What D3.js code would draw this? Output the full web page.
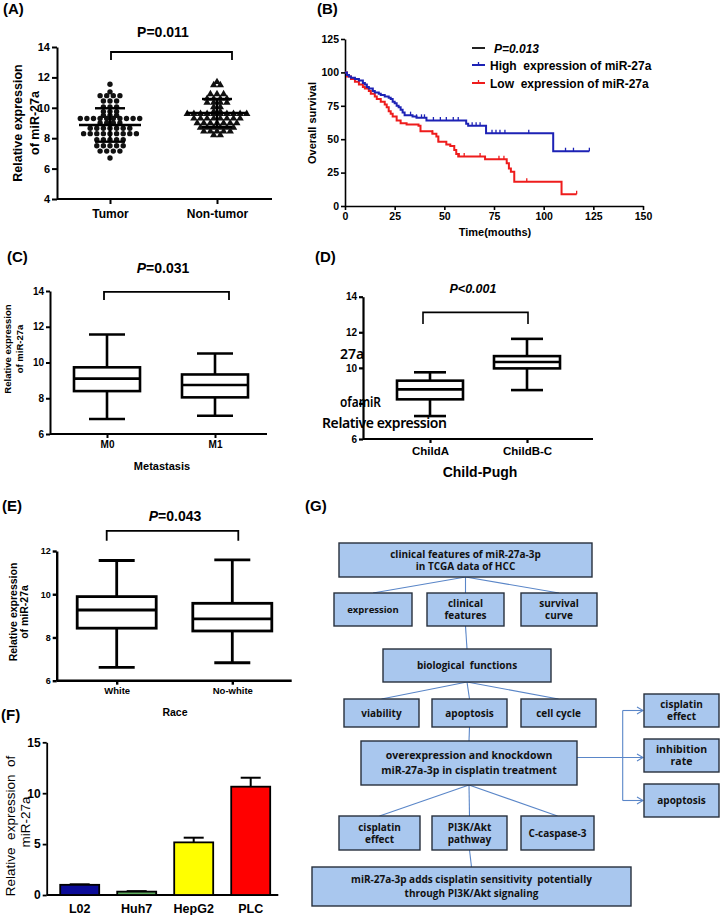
<!DOCTYPE html>
<html>
<head>
<meta charset="utf-8">
<script src="https://cdn.jsdelivr.net/npm/d3@7"></script>
<style>
  body { margin: 0; background: #fff; }
  svg { display: block; }
</style>
</head>
<body>
<svg id="fig" width="720" height="915"></svg>
<script>
// ---- data ----

// (A) scatter dot plot
const scatterGroups = ['Tumor', 'Non-tumor']
const tumorValues = [
  11.55, 11.05, 10.8, 10.8, 10.8, 10.8, 10.45, 10.45, 10.45, 10.05, 10.05, 10.05,
  9.75, 9.75, 9.75, 9.5, 9.5, 9.5,
  9.3, 9.3, 9.3, 9.3, 9.3, 9.3, 9.3, 9.3, 9.3, 9.3,
  9.0, 9.0, 9.0, 9.0,
  8.65, 8.65, 8.65, 8.65, 8.65, 8.65, 8.65,
  8.3, 8.3, 8.3, 8.3, 8.3, 8.3, 8.3, 8.3, 8.3,
  7.9, 7.9, 7.9, 7.9, 7.9,
  7.5, 7.5, 7.5, 7.5, 7.5,
  7.15, 7.15, 7.15, 7.15, 6.7
]
const nonTumorValues = [
  11.7, 11.5, 11.5, 10.9, 10.9, 10.9, 10.6, 10.6, 10.6, 10.6,
  10.35, 10.35, 10.35, 10.35, 10.05, 10.05, 9.75, 9.75,
  9.6, 9.6, 9.6, 9.6, 9.6, 9.6, 9.6, 9.6, 9.6, 9.6,
  9.3, 9.3, 9.3, 9.3, 9.3, 9.3, 9.3, 9.3,
  9.0, 9.0, 9.0, 9.0, 9.0, 9.0, 9.0,
  8.7, 8.7, 8.7, 8.7, 8.7, 8.7,
  8.45, 8.45, 8.45, 8.45, 8.45, 8.2, 8.2
]
const scatterMean = [8.87, 9.66]
const scatterSd = [1.1, 0.92]

// (B) Kaplan-Meier, [months, % survival]
const kmHigh = [
  [0, 100], [1, 98], [2, 97], [3, 96], [5, 95], [7, 94], [9, 92], [10, 91], [11, 89], [12, 88],
  [14, 86], [15, 85], [17, 84], [18, 83], [20, 82], [22, 81], [23, 80], [24, 78], [25, 77],
  [26, 75], [27, 74], [28, 72], [29, 70], [30, 68], [34, 67], [36, 66], [41, 64], [61, 61.5],
  [62, 60], [71, 54.4], [104.8, 41], [123, 41]
]
const kmLow = [
  [0, 100], [1, 97], [3, 95], [5, 93], [7, 91], [9, 89], [10, 88], [12, 86], [13, 84], [15, 82],
  [16, 80], [18, 78], [20, 76], [21, 74], [22, 71], [23, 69], [24, 67], [26, 64], [28, 62],
  [31, 61], [37, 60], [38, 56], [44, 54], [46, 52], [47, 48], [51, 46], [53, 45], [55, 42],
  [56, 39], [57, 37], [70.5, 35], [81.4, 32], [82.5, 28], [83.5, 25.7], [85.2, 18.2],
  [109, 8.8], [116.6, 8.8]
]
const kmHighCensor = [33, 36, 38.5, 40, 44.5, 48, 51, 54.5, 57, 64, 66, 68, 74, 76, 78, 80.5, 92.5, 111, 115, 123]
const kmLowCensor = [44, 47, 57.5, 60, 68, 77.5, 80, 91.5, 116.6]
const kmPValue = 'P=0.013'
const kmSeries = ['High  expression of miR-27a', 'Low  expression of miR-27a']

// (C)(D)(E) box plots: min, q1, median, q3, max
const metastasisGroups = ['M0', 'M1']
const metastasisBoxes = [[6.84, 8.4, 9.1, 9.73, 11.57], [7.02, 8.05, 8.74, 9.33, 10.5]]
const childGroups = ['ChildA', 'ChildB-C']
const childBoxes = [[7.29, 8.23, 8.79, 9.28, 9.75], [8.75, 9.97, 10.33, 10.66, 11.63]]
const raceGroups = ['White', 'No-white']
const raceBoxes = [[6.62, 8.43, 9.27, 9.89, 11.56], [6.83, 8.3, 8.86, 9.58, 11.59]]

// (F) cell lines
const cellLines = ['L02', 'Huh7', 'HepG2', 'PLC']
const cellMeans = [1.0, 0.33, 5.17, 10.64]
const cellErrors = [0.05, 0.05, 0.46, 0.88]

// (G) flowchart labels
const flowLabels = {
  top: ['clinical features of miR-27a-3p', 'in TCGA data of HCC'],
  expr: ['expression'],
  clin: ['clinical', 'features'],
  surv: ['survival', 'curve'],
  bio: ['biological  functions'],
  via: ['viability'],
  apo: ['apoptosis'],
  cyc: ['cell cycle'],
  over: ['overexpression and knockdown', 'miR-27a-3p in cisplatin treatment'],
  rCis: ['cisplatin', 'effect'],
  rInh: ['inhibition', 'rate'],
  rApo: ['apoptosis'],
  cis: ['cisplatin', 'effect'],
  pi3k: ['PI3K/Akt', 'pathway'],
  casp: ['C-caspase-3'],
  end: ['miR-27a-3p adds cisplatin sensitivity  potentially', 'through PI3K/Akt signaling']
}

// ---- drawing ----
const FONT = '"Liberation Sans", Arial, Helvetica, sans-serif'
const svg = d3.select('#fig').attr('font-family', FONT)

const txt = (g, x, y, s, size, opts = {}) => g.append('text')
  .attr('x', x).attr('y', y).text(s)
  .attr('font-size', size)
  .attr('font-weight', opts.weight || 'bold')
  .attr('font-style', opts.italic ? 'italic' : null)
  .attr('text-anchor', opts.anchor || 'start')
  .attr('fill', '#000')

const vtxt = (g, cx, cy, s, size, weight = 'bold') => g.append('text')
  .attr('transform', `translate(${cx},${cy}) rotate(-90)`)
  .attr('dy', '0.35em')
  .attr('text-anchor', 'middle')
  .attr('font-size', size)
  .attr('font-weight', weight)
  .attr('xml:space', 'preserve')
  .text(s)

// P=value with an italic P
const ptxt = (g, x, y, rest, size, italicP) => {
  const t = g.append('text').attr('x', x).attr('y', y).attr('text-anchor', 'middle')
    .attr('font-size', size).attr('font-weight', 'bold')
  t.append('tspan').attr('font-style', italicP ? 'italic' : null).text('P')
  t.append('tspan').text(rest)
}

const styleAxis = (g, sw, fs, weight = 'bold') => {
  g.selectAll('path, line').attr('stroke', '#000').attr('stroke-width', sw)
  g.selectAll('text').attr('font-size', fs).attr('font-weight', weight)
    .attr('font-family', FONT).attr('fill', '#000')
}

// generic category axes: y linear axis + baseline + category ticks
function catAxes(g, cfg, x, y) {
  const fmt = cfg.yFormat || d3.format('d')
  const ya = g.append('g').attr('transform', `translate(${cfg.axisX},0)`)
    .call(d3.axisLeft(y).tickValues(cfg.yTicks).tickFormat(fmt)
      .tickSize(cfg.tick).tickSizeOuter(0).tickPadding(2))
  styleAxis(ya, cfg.sw, cfg.yFont)
  g.append('line').attr('x1', cfg.axisX).attr('x2', cfg.axisEnd)
    .attr('y1', y.range()[0]).attr('y2', y.range()[0])
    .attr('stroke', '#000').attr('stroke-width', cfg.sw)
  const xa = g.append('g').attr('transform', `translate(0,${y.range()[0]})`)
    .call(d3.axisBottom(x).tickSize(cfg.tick).tickPadding(cfg.xPad))
  xa.select('.domain').remove()
  styleAxis(xa, cfg.sw, cfg.xFont)
}

function bracket(g, x1, x2, yTop, yBot, sw) {
  g.append('path')
    .attr('d', `M${x1},${yBot}V${yTop}H${x2}V${yBot}`)
    .attr('fill', 'none').attr('stroke', '#000').attr('stroke-width', sw)
}

function boxes(g, groups, stats, x, y, bw, cw, sw) {
  groups.forEach((grp, i) => {
    const [mn, q1, md, q3, mx] = stats[i]
    const cx = x(grp)
    const b = g.append('g').attr('stroke', '#000').attr('stroke-width', sw).attr('fill', 'none')
    b.append('line').attr('x1', cx).attr('x2', cx).attr('y1', y(mx)).attr('y2', y(q3))
    b.append('line').attr('x1', cx).attr('x2', cx).attr('y1', y(q1)).attr('y2', y(mn))
    b.append('line').attr('x1', cx - cw / 2).attr('x2', cx + cw / 2).attr('y1', y(mx)).attr('y2', y(mx))
    b.append('line').attr('x1', cx - cw / 2).attr('x2', cx + cw / 2).attr('y1', y(mn)).attr('y2', y(mn))
    b.append('rect').attr('x', cx - bw / 2).attr('width', bw).attr('y', y(q3)).attr('height', y(q1) - y(q3))
    b.append('line').attr('x1', cx - bw / 2).attr('x2', cx + bw / 2).attr('y1', y(md)).attr('y2', y(md))
  })
}

// panel letters
;[['(A)', 3, 14], ['(B)', 317, 14], ['(C)', 7, 262], ['(D)', 315, 262],
  ['(E)', 2, 511], ['(F)', 1, 720], ['(G)', 305, 511]].forEach(([s, x, y]) => txt(svg, x, y, s, 15))

// ---------- (A) ----------
{
  const g = svg.append('g')
  const y = d3.scaleLinear().domain([4, 14]).range([199, 47])
  const x = d3.scalePoint().domain(scatterGroups).range([56.5, 270.5]).padding(0.5)
  catAxes(g, { axisX: 57, axisEnd: 272, yTicks: [4, 6, 8, 10, 12, 14], tick: 5, sw: 2, yFont: 11, xFont: 12, xPad: 5 }, x, y)
  vtxt(g, 18, 123, 'Relative expression', 12.5)
  vtxt(g, 35, 123, 'of miR-27a', 12.5)
  txt(g, 163, 37, 'P=0.011', 14, { anchor: 'middle' })
  bracket(g, x('Tumor') + 1, x('Non-tumor') + 15, y(13.67), y(13.14), 1.8)

  const swarm = (vals, cx) => {
    const out = []
    d3.group(vals, v => v).forEach((vs, v) =>
      vs.forEach((_, k) => out.push([cx + (k - (vs.length - 1) / 2) * 6.6, y(v)])))
    return out
  }
  g.selectAll('circle.dot').data(swarm(tumorValues, x('Tumor'))).join('circle')
    .attr('cx', d => d[0]).attr('cy', d => d[1]).attr('r', 2.7).attr('fill', '#111')
  const tri = d3.symbol(d3.symbolTriangle, 24)
  g.selectAll('path.tri').data(swarm(nonTumorValues, x('Non-tumor'))).join('path')
    .attr('transform', d => `translate(${d[0]},${d[1]})`).attr('d', tri).attr('fill', '#111')

  scatterGroups.forEach((grp, i) => {
    const cx = x(grp), m = scatterMean[i], s = scatterSd[i]
    const l = g.append('g').attr('stroke', '#000').attr('stroke-width', 2.4)
    l.append('line').attr('x1', cx - 31).attr('x2', cx + 31).attr('y1', y(m)).attr('y2', y(m))
    l.append('line').attr('x1', cx).attr('x2', cx).attr('y1', y(m + s)).attr('y2', y(m - s))
    l.append('line').attr('x1', cx - 15).attr('x2', cx + 15).attr('y1', y(m + s)).attr('y2', y(m + s))
    l.append('line').attr('x1', cx - 15).attr('x2', cx + 15).attr('y1', y(m - s)).attr('y2', y(m - s))
  })
}

// ---------- (B) ----------
{
  const g = svg.append('g')
  const x = d3.scaleLinear().domain([0, 150]).range([345, 643])
  const y = d3.scaleLinear().domain([0, 125]).range([206, 39])
  const xa = g.append('g').attr('transform', 'translate(0,206)')
    .call(d3.axisBottom(x).tickValues(d3.range(0, 151, 25)).tickSize(4).tickSizeOuter(0).tickPadding(3))
  styleAxis(xa, 1.6, 10.5)
  const ya = g.append('g').attr('transform', 'translate(345,0)')
    .call(d3.axisLeft(y).tickValues(d3.range(0, 126, 25)).tickSize(4).tickSizeOuter(0).tickPadding(2))
  styleAxis(ya, 1.6, 10.5)
  txt(g, 495, 236, 'Time(mouths)', 11, { anchor: 'middle' })
  vtxt(g, 312, 123, 'Overall survival', 11)

  const line = d3.line().x(d => x(d[0])).y(d => y(d[1])).curve(d3.curveStepAfter)
  const stepAt = (c, t) => { let s = c[0][1]; c.forEach(p => { if (p[0] <= t) s = p[1] }); return s }
  const series = [[kmHigh, kmHighCensor, '#1d22b5'], [kmLow, kmLowCensor, '#ee1c1c']]
  series.slice().reverse().forEach(([c, cen, col]) => {
    g.append('path').attr('d', line(c)).attr('fill', 'none').attr('stroke', col).attr('stroke-width', 2)
    g.selectAll(null).data(cen).join('line')
      .attr('x1', d => x(d)).attr('x2', d => x(d))
      .attr('y1', d => y(stepAt(c, d))).attr('y2', d => y(stepAt(c, d)) - 3.5)
      .attr('stroke', col).attr('stroke-width', 1.3)
  })

  // legend
  const lg = g.append('g')
  lg.append('line').attr('x1', 472).attr('x2', 485).attr('y1', 48).attr('y2', 48).attr('stroke', '#222').attr('stroke-width', 2)
  txt(lg, 494, 53, kmPValue, 12, { italic: true })
  series.forEach(([, , col], i) => {
    const ly = 65 + i * 18
    lg.append('line').attr('x1', 472).attr('x2', 485).attr('y1', ly).attr('y2', ly).attr('stroke', col).attr('stroke-width', 2)
    lg.append('line').attr('x1', 478.5).attr('x2', 478.5).attr('y1', ly).attr('y2', ly - 3).attr('stroke', col).attr('stroke-width', 1.3)
    txt(lg, 490, ly + 4.5, kmSeries[i], 12).attr('xml:space', 'preserve')
  })
}

// ---------- (C) ----------
{
  const g = svg.append('g')
  const y = d3.scaleLinear().domain([6, 14]).range([434, 291])
  const x = d3.scalePoint().domain(metastasisGroups).range([53, 269]).padding(0.5)
  catAxes(g, { axisX: 50, axisEnd: 267, yTicks: [6, 8, 10, 12, 14], tick: 4, sw: 2, yFont: 10, xFont: 10, xPad: 3 }, x, y)
  vtxt(g, 7.5, 349, 'Relative expression', 9.5)
  vtxt(g, 20, 349, 'of miR-27a', 9.5)
  txt(g, 162, 470, 'Metastasis', 11, { anchor: 'middle' })
  ptxt(g, 163, 273, '=0.031', 14, true)
  bracket(g, x('M0') - 3, x('M1') + 14, y(13.95), y(13.49), 1.8)
  boxes(g, metastasisGroups, metastasisBoxes, x, y, 66, 36, 2.6)
}

// ---------- (D) ----------
{
  const g = svg.append('g')
  const y = d3.scaleLinear().domain([6, 14]).range([439, 296.7])
  const x = d3.scalePoint().domain(childGroups).range([381.5, 575.5]).padding(0.5)
  // the "8" label is hidden under the stray title text in the original
  catAxes(g, { axisX: 363, axisEnd: 593, yTicks: [6, 8, 10, 12, 14], yFormat: d => d === 8 ? '' : d,
    tick: 4, sw: 2.2, yFont: 10, xFont: 11.5, xPad: 4 }, x, y)
  txt(g, 480, 477, 'Child-Pugh', 14, { anchor: 'middle' })
  txt(g, 473, 293, 'P<0.001', 12.5, { anchor: 'middle', italic: true })
  bracket(g, x('ChildA') - 7, x('ChildB-C') + 1, y(13.12), y(12.46), 1.6)
  boxes(g, childGroups, childBoxes, x, y, 66, 32, 2.6)
  // stray, overlapping axis-title fragments as printed
  const f = g.append('g').attr('font-family', '"Noto Sans", "Open Sans", sans-serif').attr('font-weight', 600)
  f.append('text').attr('x', 340).attr('y', 359).attr('font-size', 14).text('27a')
  f.append('text').attr('x', 340).attr('y', 407).attr('font-size', 14).attr('textLength', 41)
    .attr('lengthAdjust', 'spacingAndGlyphs').text('ofamiR')
  f.append('text').attr('x', 322).attr('y', 428).attr('font-size', 14).attr('textLength', 125).text('Relative expression')
}

// ---------- (E) ----------
{
  const g = svg.append('g')
  const y = d3.scaleLinear().domain([6, 12]).range([680.7, 551])
  const x = d3.scalePoint().domain(raceGroups).range([58.9, 290.1]).padding(0.5)
  catAxes(g, { axisX: 56.7, axisEnd: 291.7, yTicks: [6, 8, 10, 12], tick: 4, sw: 2.4, yFont: 9, xFont: 9.5, xPad: 3 }, x, y)
  vtxt(g, 13.5, 612, 'Relative expression', 10.5)
  vtxt(g, 24.5, 612, 'of miR-27a', 10.5)
  txt(g, 175, 716, 'Race', 10.5, { anchor: 'middle' })
  ptxt(g, 175, 521, '=0.043', 14, true)
  bracket(g, x('White') - 10, x('No-white') + 6, y(12.93), y(12.47), 1.8)
  boxes(g, raceGroups, raceBoxes, x, y, 79, 36, 2.8)
}

// ---------- (F) ----------
{
  const g = svg.append('g')
  const cellColors = ['#0b0b98', '#5fae5f', '#ffff00', '#ff0000']
  const y = d3.scaleLinear().domain([0, 15]).range([895, 742.3])
  const x = d3.scaleBand().domain(cellLines).range([51.2, 279.2]).paddingInner(0.316).paddingOuter(0.158)
  const ya = g.append('g').attr('transform', 'translate(46.7,0)')
    .call(d3.axisLeft(y).tickValues([0, 5, 10, 15]).tickSize(4).tickSizeOuter(0).tickPadding(2))
  styleAxis(ya, 1.8, 12)
  g.append('line').attr('x1', 46.7).attr('x2', 278.3).attr('y1', 895).attr('y2', 895).attr('stroke', '#000').attr('stroke-width', 1.8)
  vtxt(g, 10, 826, 'Relative  expression  of', 13.5, 'normal')
  vtxt(g, 25, 822, 'miR-27a', 13.5, 'normal')
  cellLines.forEach((c, i) => {
    const cx = x(c) + x.bandwidth() / 2
    g.append('line').attr('x1', cx).attr('x2', cx).attr('y1', y(cellMeans[i])).attr('y2', y(cellMeans[i] + cellErrors[i]))
      .attr('stroke', '#000').attr('stroke-width', 2)
    g.append('line').attr('x1', cx - 10).attr('x2', cx + 10)
      .attr('y1', y(cellMeans[i] + cellErrors[i])).attr('y2', y(cellMeans[i] + cellErrors[i]))
      .attr('stroke', '#000').attr('stroke-width', 2)
    g.append('rect').attr('x', x(c)).attr('width', x.bandwidth())
      .attr('y', y(cellMeans[i])).attr('height', y(0) - y(cellMeans[i]))
      .attr('fill', cellColors[i]).attr('stroke', '#000').attr('stroke-width', 1.8)
    txt(g, cx, 913, c, 12.5, { anchor: 'middle' })
  })
}

// ---------- (G) flowchart ----------
{
  const g = svg.append('g')
  // box layout [x, y, w, h, fontSize, lineGap]
  const layout = {
    top: [339, 543, 253, 34, 10, 12], expr: [334, 593, 78, 33, 9.5, 11.5],
    clin: [427, 593, 77, 33, 10, 12], surv: [521, 593, 76, 33, 10, 12],
    bio: [383, 649, 168, 33, 10, 12], via: [344, 699, 75, 28, 10, 12],
    apo: [432, 699, 75, 28, 10, 12], cyc: [521, 699, 75, 28, 10, 12],
    over: [361, 741, 216, 44, 10.5, 15], rCis: [644, 694, 75, 33, 10, 12],
    rInh: [644, 739, 75, 33, 10.5, 12.5], rApo: [644, 784, 75, 33, 10, 12],
    cis: [339, 816, 81, 34, 10, 12], pi3k: [432, 816, 75, 34, 10, 12],
    casp: [521, 816, 73, 34, 10, 12], end: [312, 867, 319, 39, 10, 13.5]
  }
  const links = [['top', 'expr'], ['top', 'clin'], ['top', 'surv'], ['clin', 'bio'],
    ['bio', 'via'], ['bio', 'apo'], ['bio', 'cyc'], ['apo', 'over'],
    ['over', 'cis'], ['over', 'pi3k'], ['over', 'casp'], ['pi3k', 'end']]
  const bc = k => [layout[k][0] + layout[k][2] / 2, layout[k][1] + layout[k][3]]
  const tc = k => [layout[k][0] + layout[k][2] / 2, layout[k][1]]
  const mid = k => layout[k][1] + layout[k][3] / 2
  const LINK = '#5a86c8'
  links.forEach(([a, b]) => {
    const s = bc(a), t = tc(b)
    g.append('line').attr('x1', s[0]).attr('y1', s[1]).attr('x2', t[0]).attr('y2', t[1])
      .attr('stroke', LINK).attr('stroke-width', 1.1)
  })
  // right-hand arrows
  const ox = layout.over[0] + layout.over[2], rx = layout.rInh[0], vx = 622.7
  const arrow = (x1, y1, x2) => {
    g.append('line').attr('x1', x1).attr('x2', x2).attr('y1', y1).attr('y2', y1).attr('stroke', LINK).attr('stroke-width', 1.1)
    g.append('path').attr('d', `M${x2 - 6},${y1 - 3.5}L${x2},${y1}L${x2 - 6},${y1 + 3.5}`)
      .attr('fill', 'none').attr('stroke', LINK).attr('stroke-width', 1.1)
  }
  g.append('line').attr('x1', vx).attr('x2', vx).attr('y1', mid('rCis')).attr('y2', mid('rApo'))
    .attr('stroke', LINK).attr('stroke-width', 1.1)
  arrow(ox, mid('rInh') + 2, rx - 1)
  arrow(vx, mid('rCis'), rx - 1)
  arrow(vx, mid('rApo'), rx - 1)

  Object.keys(layout).forEach(k => {
    const [bx, by, bw, bh, fs, gap] = layout[k]
    g.append('rect').attr('x', bx).attr('y', by).attr('width', bw).attr('height', bh)
      .attr('fill', '#a9c7ee').attr('stroke', '#27303c').attr('stroke-width', 1.4)
    const lines = flowLabels[k]
    const t = g.append('text').attr('text-anchor', 'middle')
      .attr('font-family', '"Open Sans", "Noto Sans", sans-serif').attr('font-weight', 'bold')
      .attr('font-size', fs).attr('fill', '#111')
    lines.forEach((s, i) => {
      t.append('tspan').attr('x', bx + bw / 2)
        .attr('y', by + bh / 2 + (i - (lines.length - 1) / 2) * gap + fs * 0.35)
        .attr('xml:space', 'preserve').text(s)
    })
  })
}
</script>
</body>
</html>
